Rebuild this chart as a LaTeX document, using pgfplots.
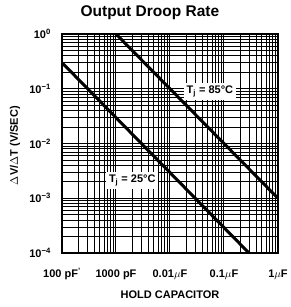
\documentclass[border=0pt]{standalone}
\usepackage{fontspec}
\setmainfont{Liberation Sans}
\usepackage{pgfplots}
\pgfplotsset{compat=1.18}
\begin{document}
\begin{tikzpicture}
\begin{axis}[
  name=ax,
  scale only axis, width=216pt, height=219pt,
  xmode=log, ymode=log,
  xmin=1e-10, xmax=1e-6, ymin=1e-4, ymax=1,
  xtick={1e-10,1e-9,1e-8,1e-7,1e-6},
  xticklabels={100 pF\textsuperscript{'}, 1000 pF, 0.01$\mu$F, 0.1$\mu$F, 1$\mu$F},
  ytick={1e-4,1e-3,1e-2,1e-1,1},
  yticklabels={10\textsuperscript{−4},10\textsuperscript{−3},10\textsuperscript{−2},10\textsuperscript{−1},10\textsuperscript{0}},
  ticklabel style={font=\bfseries\fontsize{11}{13}\selectfont},
  xticklabel style={anchor=base, yshift=-24pt},
  yticklabel style={anchor=east, inner sep=0pt, xshift=-11pt},
  tick style={draw=none},
  grid=both,
  major grid style={black, line width=1pt},
  minor grid style={black, line width=0.75pt},
  minor xtick={2e-10,3e-10,4e-10,5e-10,6e-10,7e-10,8e-10,9e-10,2e-9,3e-9,4e-9,5e-9,6e-9,7e-9,8e-9,9e-9,2e-8,3e-8,4e-8,5e-8,6e-8,7e-8,8e-8,9e-8,2e-7,3e-7,4e-7,5e-7,6e-7,7e-7,8e-7,9e-7},
  minor ytick={2e-4,3e-4,4e-4,5e-4,6e-4,7e-4,8e-4,9e-4,2e-3,3e-3,4e-3,5e-3,6e-3,7e-3,8e-3,9e-3,2e-2,3e-2,4e-2,5e-2,6e-2,7e-2,8e-2,9e-2,2e-1,3e-1,4e-1,5e-1,6e-1,7e-1,8e-1,9e-1},
  axis line style={black, line width=1.4pt},
  xlabel={HOLD CAPACITOR},
  ylabel={$\Delta$V/$\Delta$T (V/SEC)},
  label style={font=\bfseries\fontsize{11}{13}\selectfont},
  xlabel style={at={(rel axis cs:0.5,0)}, anchor=base, yshift=-45pt},
  ylabel style={at={(rel axis cs:0,0.49)}, anchor=center, yshift=47pt},
  title={Output Droop Rate},
  title style={at={(rel axis cs:0.407,1)}, anchor=base, yshift=12pt, font=\bfseries\fontsize{15.5}{18}\selectfont},
  clip=true,
]
\addplot[black, line width=3pt] coordinates {(1e-10,0.3) (2.9e-7,1e-4)};
\addplot[black, line width=3pt] coordinates {(1e-9,1) (1e-6,1e-3)};
\node[fill=white, inner sep=3pt, font=\bfseries\fontsize{11}{13}\selectfont] at (axis cs:5.5e-8,0.09) {T\textsubscript{j} = 85°C};
\node[fill=white, inner sep=3pt, font=\bfseries\fontsize{11}{13}\selectfont] at (axis cs:2e-9,2.1e-3) {T\textsubscript{j} = 25°C};
\end{axis}
\pgfresetboundingbox
\path ([xshift=-62pt,yshift=-54pt]ax.south west) rectangle ([xshift=13pt,yshift=34pt]ax.north east);
\end{tikzpicture}
\end{document}
